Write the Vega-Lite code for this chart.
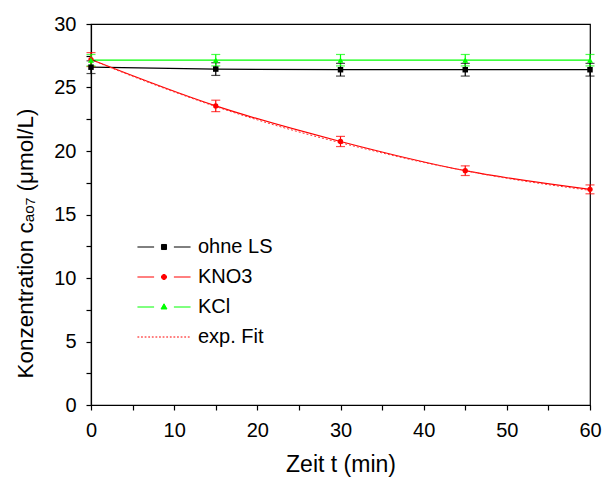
{
  "$schema": "https://vega.github.io/schema/vega-lite/v6.json",
  "width": 499,
  "height": 381,
  "autosize": {"type": "none"},
  "padding": {"left": 91, "top": 24, "right": 16, "bottom": 75},
  "background": "white",
  "config": {
    "view": {"stroke": "black", "strokeWidth": 1.2},
    "font": "Liberation Sans",
    "axis": {
      "grid": false,
      "domainColor": "black",
      "tickColor": "black",
      "labelColor": "black",
      "titleColor": "black",
      "labelFont": "Liberation Sans",
      "titleFont": "Liberation Sans",
      "labelFontSize": 20,
      "titleFontSize": 22,
      "titleFontWeight": "normal",
      "tickSize": 5,
      "domainWidth": 1.2,
      "tickWidth": 1.2,
      "labelFlush": false
    },
    "legend": {
      "orient": "none", "legendX": 63, "legendY": 213, "title": null,
      "symbolSize": 324, "symbolStrokeWidth": 1, "symbolOpacity": 1,
      "labelFontSize": 20, "labelFont": "Liberation Sans", "labelColor": "black",
      "labelOffset": 24, "rowPadding": 10, "padding": 0
    }
  },
  "datasets": {
    "meas": [
      {"series": "ohne LS", "t": 0, "c": 26.6, "lo": 26.1, "hi": 27.1},
      {"series": "ohne LS", "t": 15, "c": 26.45, "lo": 25.95, "hi": 26.95},
      {"series": "ohne LS", "t": 30, "c": 26.4, "lo": 25.9, "hi": 26.9},
      {"series": "ohne LS", "t": 45, "c": 26.4, "lo": 25.9, "hi": 26.9},
      {"series": "ohne LS", "t": 60, "c": 26.4, "lo": 25.9, "hi": 26.9},
      {"series": "KNO3", "t": 0, "c": 27.2, "lo": 26.65, "hi": 27.75},
      {"series": "KNO3", "t": 15, "c": 23.55, "lo": 23.1, "hi": 24.0},
      {"series": "KNO3", "t": 30, "c": 20.75, "lo": 20.35, "hi": 21.15},
      {"series": "KNO3", "t": 45, "c": 18.45, "lo": 18.07, "hi": 18.83},
      {"series": "KNO3", "t": 60, "c": 16.98, "lo": 16.63, "hi": 17.33},
      {"series": "KCl", "t": 0, "c": 27.15, "lo": 26.7, "hi": 27.6},
      {"series": "KCl", "t": 15, "c": 27.15, "lo": 26.7, "hi": 27.6},
      {"series": "KCl", "t": 30, "c": 27.15, "lo": 26.7, "hi": 27.6},
      {"series": "KCl", "t": 45, "c": 27.15, "lo": 26.7, "hi": 27.6},
      {"series": "KCl", "t": 60, "c": 27.15, "lo": 26.7, "hi": 27.6}
    ],
    "fit": [
      {"t": 0, "c": 27.2},
      {"t": 5, "c": 25.88},
      {"t": 10, "c": 24.65},
      {"t": 15, "c": 23.5},
      {"t": 20, "c": 22.45},
      {"t": 25, "c": 21.5},
      {"t": 30, "c": 20.65},
      {"t": 35, "c": 19.85},
      {"t": 40, "c": 19.1},
      {"t": 45, "c": 18.45},
      {"t": 50, "c": 17.85},
      {"t": 55, "c": 17.35},
      {"t": 60, "c": 16.9}
    ]
  },
  "encoding": {
    "x": {
      "field": "t",
      "type": "quantitative",
      "scale": {"domain": [0, 60], "nice": false},
      "axis": {
        "title": "Zeit t (min)",
        "values": [0, 5, 10, 15, 20, 25, 30, 35, 40, 45, 50, 55, 60],
        "labelExpr": "datum.value % 10 == 0 ? datum.label : ''",
        "labelPadding": 10,
        "titlePadding": 13,
        "titleFontSize": 23
      }
    },
    "y": {
      "field": "c",
      "type": "quantitative",
      "scale": {"domain": [0, 30], "nice": false},
      "axis": {
        "title": "Konzentration c\u2090\u2092\u2087 (\u03bcmol/L)",
        "values": [0, 2.5, 5, 7.5, 10, 12.5, 15, 17.5, 20, 22.5, 25, 27.5, 30],
        "labelExpr": "datum.value % 5 == 0 ? datum.label : ''",
        "labelPadding": 10,
        "titlePadding": 16,
        "titleY": 219,
        "titleFontSize": 22.5
      }
    }
  },
  "layer": [
    {
      "data": {"name": "meas"},
      "mark": {"type": "line", "interpolate": "monotone", "strokeWidth": 1.2},
      "encoding": {
        "color": {
          "field": "series",
          "type": "nominal",
          "scale": {"domain": ["ohne LS", "KNO3", "KCl", "exp. Fit"], "range": ["black", "#ff0000", "#00ff00", "#ff0000"]}
        },
        "detail": {"field": "series"}
      }
    },
    {
      "data": {"name": "fit"},
      "mark": {"type": "line", "interpolate": "monotone", "color": "#ff3030", "strokeWidth": 1, "strokeDash": [2, 2]},
      "encoding": {}
    },
    {
      "data": {"name": "meas"},
      "mark": {"type": "rule", "strokeWidth": 1.2},
      "encoding": {
        "y": {"field": "lo", "type": "quantitative"},
        "y2": {"field": "hi"},
        "color": {"field": "series", "type": "nominal"}
      }
    },
    {
      "data": {"name": "meas"},
      "mark": {"type": "tick", "orient": "horizontal", "size": 9, "thickness": 1.2},
      "encoding": {
        "y": {"field": "lo", "type": "quantitative"},
        "color": {"field": "series", "type": "nominal"}
      }
    },
    {
      "data": {"name": "meas"},
      "mark": {"type": "tick", "orient": "horizontal", "size": 9, "thickness": 1.2},
      "encoding": {
        "y": {"field": "hi", "type": "quantitative"},
        "color": {"field": "series", "type": "nominal"}
      }
    },
    {
      "data": {"name": "meas"},
      "transform": [{"filter": "datum.series == 'ohne LS'"}],
      "mark": {"type": "point", "shape": "square", "filled": true, "size": 30, "color": "black", "opacity": 1}
    },
    {
      "data": {"name": "meas"},
      "transform": [{"filter": "datum.series == 'KNO3'"}],
      "mark": {"type": "point", "shape": "circle", "filled": true, "size": 28, "color": "#ff0000", "opacity": 1}
    },
    {
      "data": {"name": "meas"},
      "transform": [{"filter": "datum.series == 'KCl'"}],
      "mark": {"type": "point", "shape": "triangle-up", "filled": true, "size": 36, "color": "#00ff00", "opacity": 1}
    },
    {
      "data": {"name": "meas"},
      "mark": {"type": "point", "filled": false, "opacity": 0},
      "encoding": {
        "color": {"field": "series", "type": "nominal"},
        "shape": {
          "field": "series",
          "type": "nominal",
          "scale": {
            "domain": ["ohne LS", "KNO3", "KCl", "exp. Fit"],
            "range": [
              "M-2.95,0H-1.1M1.1,0H2.95M-0.28,-0.28H0.28V0.28H-0.28ZM-0.28,0H0.28M0,-0.28V0.28",
              "M-2.95,0H-1.1M1.1,0H2.95M-0.28,0A0.28,0.28 0 1,0 0.28,0A0.28,0.28 0 1,0 -0.28,0ZM-0.28,0H0.28M0,-0.28V0.28",
              "M-2.95,0H-1.1M1.1,0H2.95M0,-0.36L0.33,0.22H-0.33ZM0,-0.2V0.22M-0.15,0.05H0.15",
              "M-2.95,0H-2.75M-2.55,0H-2.35M-2.15,0H-1.95M-1.75,0H-1.55M-1.35,0H-1.15M-0.95,0H-0.75M-0.55,0H-0.35M-0.15,0H0.05M0.25,0H0.45M0.65,0H0.85M1.05,0H1.25M1.45,0H1.65M1.85,0H2.05M2.25,0H2.45M2.65,0H2.85"
            ]
          }
        }
      }
    }
  ]
}
